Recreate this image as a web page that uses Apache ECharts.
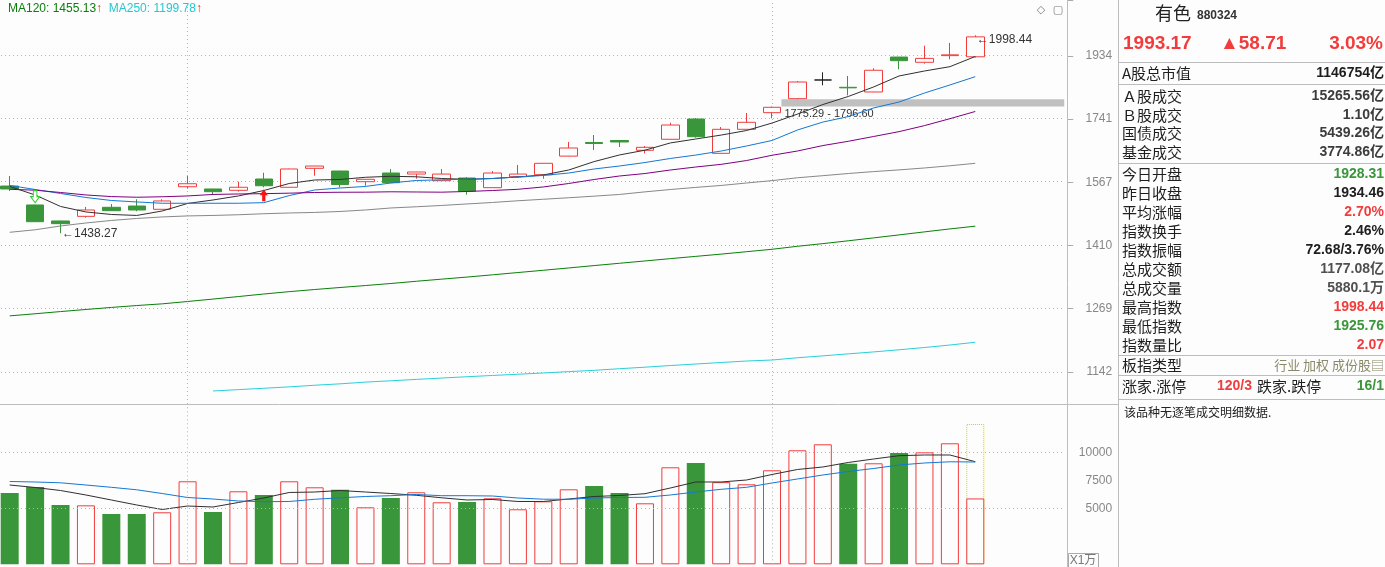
<!DOCTYPE html>
<html>
<head>
<meta charset="utf-8">
<title>有色 880324</title>
<script src="https://cdn.jsdelivr.net/npm/echarts@6/dist/echarts.min.js"></script>
<style>
  html, body { margin: 0; padding: 0; background: #fdfdfd; }
  #chart { width: 1385px; height: 567px; }
</style>
</head>
<body>
<div id="chart"></div>
<script>
// ---- data ----
const days = Array.from({ length: 39 }, (_, i) => 'D' + (i + 1));

const opens = [1555.5, 1507.3, 1467.8, 1479.1, 1501.5, 1504.7, 1496.5, 1553.7, 1547.9, 1544.5, 1573.8, 1552.3, 1602.0, 1594.8, 1566.8, 1589.5, 1586.8, 1569.4, 1576.4, 1551.3, 1579.8, 1585.0, 1634.8, 1672.3, 1677.8, 1650.7, 1681.2, 1738.8, 1642.4, 1709.3, 1757.2, 1798.5, 1855.3, 1832.9, 1818.7, 1927.4, 1910.7, 1932.0, 1928.31];
const highs = [1581.6, 1508.0, 1468.5, 1502.3, 1509.7, 1521.7, 1521.7, 1581.6, 1548.5, 1566.8, 1590.3, 1601.0, 1608.5, 1595.5, 1573.5, 1600.2, 1592.5, 1600.2, 1579.0, 1594.8, 1610.9, 1616.0, 1673.7, 1693.2, 1679.0, 1662.5, 1728.1, 1741.7, 1715.8, 1756.3, 1775.29, 1852.2, 1879.2, 1867.7, 1891.7, 1928.0, 1964.1, 1973.0, 1998.44];
const lows = [1542.7, 1465.5, 1438.27, 1475.7, 1492.5, 1491.6, 1496.0, 1548.7, 1532.6, 1541.0, 1552.3, 1551.8, 1582.4, 1551.8, 1556.3, 1564.0, 1574.6, 1569.0, 1533.4, 1551.0, 1576.4, 1574.6, 1634.0, 1651.5, 1659.8, 1642.4, 1681.0, 1685.7, 1642.0, 1709.0, 1740.8, 1796.60, 1839.0, 1808.6, 1818.0, 1888.6, 1906.3, 1920.2, 1925.76];
const closes = [1547.9, 1466.0, 1461.2, 1494.8, 1493.1, 1494.8, 1517.4, 1561.5, 1541.0, 1552.3, 1556.3, 1600.2, 1608.1, 1559.4, 1573.0, 1564.2, 1592.2, 1586.8, 1542.0, 1589.5, 1586.8, 1615.4, 1657.0, 1669.5, 1673.7, 1658.9, 1721.5, 1688.5, 1709.3, 1729.3, 1773.0, 1849.1, 1855.3, 1831.2, 1885.5, 1915.8, 1923.2, 1934.46, 1993.17];

const ma5 = [1554.4, 1532.6, 1503.6, 1489.9, 1483.7, 1481.3, 1492.3, 1511.1, 1519.9, 1530.1, 1544.0, 1562.1, 1571.2, 1572.5, 1578.3, 1580.9, 1579.6, 1575.1, 1573.0, 1575.1, 1579.1, 1584.4, 1597.5, 1620.0, 1638.0, 1651.0, 1671.0, 1682.0, 1693.0, 1705.9, 1727.1, 1753.0, 1781.1, 1805.1, 1834.0, 1867.7, 1883.2, 1896.8, 1929.2];
const ma10 = [1557.0, 1546.6, 1536.4, 1526.2, 1518.6, 1514.9, 1511.6, 1511.6, 1511.6, 1511.6, 1513.1, 1531.0, 1545.3, 1550.4, 1554.4, 1563.4, 1569.9, 1571.7, 1573.0, 1575.1, 1579.1, 1583.1, 1589.5, 1600.2, 1608.2, 1617.5, 1628.4, 1637.7, 1648.7, 1662.6, 1677.8, 1707.3, 1730.0, 1745.8, 1771.1, 1788.6, 1815.5, 1840.0, 1865.6];
const ma20 = [1547.1, 1544.8, 1538.9, 1532.6, 1528.5, 1526.8, 1528.0, 1530.1, 1533.9, 1535.1, 1535.9, 1537.2, 1538.9, 1539.5, 1539.7, 1540.7, 1540.2, 1539.7, 1541.5, 1544.0, 1547.1, 1553.1, 1562.1, 1572.5, 1581.7, 1588.2, 1597.5, 1605.5, 1612.6, 1622.9, 1637.1, 1648.7, 1663.7, 1675.6, 1689.0, 1702.7, 1719.8, 1739.7, 1760.7];
const ma60 = [1440.4, 1446.4, 1455.6, 1462.9, 1469.0, 1473.9, 1477.6, 1480.1, 1481.3, 1483.0, 1485.5, 1487.4, 1488.7, 1491.1, 1494.8, 1499.8, 1502.8, 1506.1, 1509.9, 1513.6, 1517.9, 1521.7, 1525.5, 1529.6, 1533.9, 1540.5, 1546.5, 1552.0, 1557.0, 1563.4, 1569.6, 1577.0, 1582.5, 1588.2, 1593.3, 1597.8, 1602.9, 1608.8, 1615.4];
const ma120 = [1253.6, 1258.0, 1262.6, 1267.0, 1271.3, 1275.3, 1278.9, 1283.9, 1289.1, 1294.5, 1300.0, 1305.1, 1309.7, 1314.1, 1318.4, 1322.9, 1327.8, 1332.5, 1337.1, 1342.1, 1347.2, 1352.3, 1357.5, 1362.9, 1368.1, 1373.4, 1378.7, 1383.9, 1389.1, 1394.7, 1400.3, 1407.3, 1413.5, 1420.2, 1427.1, 1434.2, 1441.4, 1448.5, 1455.13];
const ma250 = [null, null, null, null, null, null, null, null, 1106.5, 1109.0, 1111.5, 1114.1, 1117.1, 1119.7, 1122.9, 1125.4, 1128.0, 1130.5, 1133.0, 1135.4, 1137.7, 1140.1, 1142.7, 1145.1, 1148.2, 1151.1, 1154.3, 1157.2, 1160.1, 1163.0, 1164.9, 1169.3, 1173.0, 1176.9, 1180.7, 1184.9, 1189.4, 1194.3, 1199.78];

// 成交量, 万
const volumes = [6366, 6902, 5295, 5265, 4491, 4491, 4643, 7411, 4670, 6518, 6188, 7411, 6875, 6661, 5089, 5920, 6429, 5536, 5563, 5893, 4911, 5625, 6696, 6991, 6366, 5446, 8661, 9045, 7335, 7143, 8393, 10179, 10714, 8982, 9018, 9938, 10000, 10804, 5880.1];
const volMa5 = [7080, 6857, 6589, 6188, 5741, 5295, 4893, 5205, 5116, 5518, 5920, 6411, 6455, 6589, 6455, 6321, 6161, 5938, 5741, 5786, 5607, 5607, 5830, 6054, 6143, 6304, 6813, 7348, 7348, 7527, 8018, 8464, 8688, 9089, 9402, 9696, 9759, 9759, 9161];
const volMa10 = [7393, 7348, 7277, 7080, 6875, 6652, 6321, 5964, 5830, 5652, 5589, 5607, 5804, 5938, 6054, 6125, 6232, 6125, 6125, 6098, 5920, 5813, 5804, 5920, 5964, 5982, 6188, 6455, 6696, 6875, 7259, 7616, 7973, 8286, 8554, 8866, 9045, 9152, 9134];
const volForecast = 12527; // 预估全天量

const priceTicks = [1142, 1269, 1410, 1567, 1741, 1934];
const volTicks = [5000, 7500, 10000];
const volGrid = [5000, 10000];
const monthStarts = [7, 30];
const gapRange = [1775.29, 1796.60]; // 缺口
const gapFrom = 30;
const signals = [{ index: 1, side: 'sell' }, { index: 10, side: 'buy' }];

const title = '有色';
const code = '880324';
const lastPrice = '1993.17';
const change = '▲58.71';
const changePct = '3.03%';
const panelLabels = ['A股总市值', 'Ａ股成交', 'Ｂ股成交', '国债成交', '基金成交', '今日开盘', '昨日收盘', '平均涨幅', '指数换手', '指数振幅', '总成交额', '总成交量', '最高指数', '最低指数', '指数量比'];
const panelValues = ['1146754亿', '15265.56亿', '1.10亿', '5439.26亿', '3774.86亿', '1928.31', '1934.46', '2.70%', '2.46%', '72.68/3.76%', '1177.08亿', '5880.1万', '1998.44', '1925.76', '2.07'];
const boardType = '行业 加权 成份股▤';
const upDown = ['120/3', '16/1'];
const noTickText = '该品种无逐笔成交明细数据.';

// ---- styles ----
const RED = '#f23c3c';
const GREEN = '#3a963a';
const BG = '#fdfdfd';
const GRIDLINE = { color: '#b4b4b4', type: [1, 3], width: 1 };
const NUM = '"Liberation Sans", "Noto Sans CJK SC", sans-serif';
const CJK = '"Noto Sans CJK SC", sans-serif';
const SLOTS = 42;          // visible day slots, the last ones empty
const BAND = 25.41;        // px per day
const LOG_BASE = Math.pow(1142, 1 / 67);

const slots = Array.from({ length: SLOTS }, (_, i) => i < days.length ? days[i] : 'E' + i);

const chart = echarts.init(document.getElementById('chart'));

const lineSeries = (name, data, color, xi) => ({
  name, type: 'line', data, xAxisIndex: xi, yAxisIndex: xi,
  symbol: 'none', smooth: false, connectNulls: false, z: 4, silent: true,
  lineStyle: { color, width: 1 }
});

const downArrow = 'path://M3,0H7V6H10L5,12L0,6H3Z';
const upArrow = 'path://M5,0L10,6H7V12H3V6H0Z';

const panelColors = ['#1e1e1e', '#3c3c3c', '#3c3c3c', '#3c3c3c', '#3c3c3c', GREEN, '#1e1e1e', RED, '#1e1e1e', '#1e1e1e', '#505050', '#505050', RED, GREEN, RED];
const panelY = [73, 96, 115, 133.5, 152.5, 174, 193, 212, 231, 250, 269.5, 288.5, 307.5, 326.5, 345.5];

const graphic = [
  { type: 'line', shape: { x1: 1067.5, y1: 0, x2: 1067.5, y2: 567 }, style: { stroke: '#bdbdbd', lineWidth: 1 } },
  { type: 'line', shape: { x1: 1118.5, y1: 0, x2: 1118.5, y2: 567 }, style: { stroke: '#bdbdbd', lineWidth: 1 } },
  { type: 'line', shape: { x1: 0, y1: 404.5, x2: 1118, y2: 404.5 }, style: { stroke: '#bdbdbd', lineWidth: 1 } },
  {
    type: 'text', x: 8, y: 9,
    style: {
      text: '{g|MA120: ' + ma120[ma120.length - 1].toFixed(2) + '}{r|↑}  {c|MA250: ' + ma250[ma250.length - 1].toFixed(2) + '}{r|↑}',
      font: '12px ' + NUM, verticalAlign: 'middle',
      rich: { g: { fill: '#0a800a' }, c: { fill: '#22c8d2' }, r: { fill: '#f02828' } }
    }
  },
  { type: 'text', x: 1041, y: 10, style: { text: '◇', font: '11px "DejaVu Sans"', fill: '#777', align: 'center', verticalAlign: 'middle' } },
  { type: 'text', x: 1058, y: 10, style: { text: '▢', font: '11px "DejaVu Sans"', fill: '#777', align: 'center', verticalAlign: 'middle' } },
  { type: 'rect', shape: { x: 1068.5, y: 553.5, width: 30, height: 15 }, style: { fill: BG, stroke: '#aaa', lineWidth: 1 } },
  { type: 'text', x: 1083, y: 561, style: { text: 'X1万', font: '12px ' + NUM, fill: '#777', align: 'center', verticalAlign: 'middle' } },
  // right panel
  { type: 'text', x: 1155, y: 13, style: { text: title, font: '18px ' + CJK, fill: '#222', verticalAlign: 'middle' } },
  { type: 'text', x: 1197, y: 16, style: { text: code, font: 'bold 12px ' + NUM, fill: '#333', verticalAlign: 'middle' } },
  { type: 'text', x: 1123, y: 44, style: { text: lastPrice, font: 'bold 19px ' + NUM, fill: RED, verticalAlign: 'middle' } },
  { type: 'text', x: 1220, y: 44, style: { text: change, font: 'bold 19px ' + NUM, fill: RED, verticalAlign: 'middle' } },
  { type: 'text', x: 1383, y: 44, style: { text: changePct, font: 'bold 19px ' + NUM, fill: RED, align: 'right', verticalAlign: 'middle' } }
];
[62.5, 84.5, 163.5, 355.5, 375.5, 399.5].forEach(y => graphic.push(
  { type: 'line', shape: { x1: 1118, y1: y, x2: 1385, y2: y }, style: { stroke: '#bdbdbd', lineWidth: 1 } }
));
panelLabels.forEach((label, i) => {
  graphic.push({ type: 'text', x: 1122, y: panelY[i], style: { text: label, font: '15px ' + CJK, fill: '#1e1e1e', verticalAlign: 'middle' } });
  graphic.push({ type: 'text', x: 1384, y: panelY[i], style: { text: panelValues[i], font: 'bold 14px ' + NUM, fill: panelColors[i], align: 'right', verticalAlign: 'middle' } });
});
graphic.push(
  { type: 'text', x: 1122, y: 365.5, style: { text: '板指类型', font: '15px ' + CJK, fill: '#1e1e1e', verticalAlign: 'middle' } },
  { type: 'text', x: 1384, y: 365.5, style: { text: boardType, font: '13px ' + CJK, fill: '#8a8a6a', align: 'right', verticalAlign: 'middle' } },
  { type: 'text', x: 1122, y: 386, style: { text: '涨家.涨停', font: '15px ' + CJK, fill: '#1e1e1e', verticalAlign: 'middle' } },
  { type: 'text', x: 1217, y: 386, style: { text: upDown[0], font: 'bold 14px ' + NUM, fill: RED, verticalAlign: 'middle' } },
  { type: 'text', x: 1257, y: 386, style: { text: '跌家.跌停', font: '15px ' + CJK, fill: '#1e1e1e', verticalAlign: 'middle' } },
  { type: 'text', x: 1384, y: 386, style: { text: upDown[1], font: 'bold 14px ' + NUM, fill: GREEN, align: 'right', verticalAlign: 'middle' } },
  { type: 'text', x: 1124, y: 412, style: { text: noTickText, font: '12px ' + CJK, fill: '#222', verticalAlign: 'middle' } }
);
graphic.forEach(g => { g.silent = true; g.z = 10; });

const isUp = i => closes[i] >= opens[i];

const option = {
  backgroundColor: BG,
  animation: false,
  textStyle: { fontFamily: NUM },
  grid: [
    { left: -3, top: 0, width: SLOTS * BAND, height: 404, outerBoundsMode: 'none' },
    { left: -3, top: 404, width: SLOTS * BAND, height: 160.3, outerBoundsMode: 'none' }
  ],
  xAxis: [0, 1].map(g => ({
    type: 'category', gridIndex: g, data: slots, boundaryGap: true,
    axisLine: { show: false }, axisTick: { show: false }, axisLabel: { show: false }, splitLine: { show: false }
  })).concat([{
    // same day slots as a continuous axis, so the gap band can start at a candle edge
    type: 'value', gridIndex: 0, min: -0.5, max: SLOTS - 0.5, show: false
  }]),
  yAxis: [
    {
      type: 'log', logBase: LOG_BASE, gridIndex: 0, min: 1082.8, max: 2119.1,
      position: 'right', offset: 3,
      axisLine: { show: false, onZero: false },
      axisTick: { show: true, length: 6, lineStyle: { color: '#aaa' } },
      axisLabel: {
        color: '#888', fontSize: 12, align: 'right', margin: 45, hideOverlap: false,
        formatter: v => {
          const hit = priceTicks.find(t => Math.abs(Math.log(t / v)) < 0.004);
          return hit ? String(hit) : '';
        }
      },
      splitLine: { show: false }
    },
    {
      type: 'value', gridIndex: 1, min: 0, max: 14312, interval: 2500,
      position: 'right', offset: 3,
      axisLine: { show: false, onZero: false }, axisTick: { show: false },
      axisLabel: {
        color: '#888', fontSize: 12, align: 'right', margin: 45, hideOverlap: false,
        formatter: v => volTicks.includes(v) ? String(v) : ''
      },
      splitLine: { show: false }
    }
  ],
  series: [
    {
      name: 'K', type: 'candlestick', xAxisIndex: 0, yAxisIndex: 0, barWidth: 18, z: 3,
      data: days.map((_, i) => [opens[i], closes[i], lows[i], highs[i]]),
      itemStyle: {
        color: BG, color0: GREEN, borderColor: RED, borderColor0: GREEN,
        borderColorDoji: '#222', borderWidth: 1
      },
      markLine: {
        silent: true, symbol: ['none', 'none'], label: { show: false }, lineStyle: GRIDLINE, z: 1,
        data: priceTicks.map(v => ({ yAxis: v })).concat(monthStarts.map(i => ({ xAxis: days[i] })))
      },
      markPoint: {
        silent: true,
        data: [
          {
            type: 'max', valueDim: 'highest', symbol: 'circle', symbolSize: 1,
            itemStyle: { color: 'transparent' },
            label: { show: true, position: 'right', distance: 1, offset: [0, 4], color: '#333', fontSize: 12, formatter: p => '←' + p.value.toFixed(2) }
          },
          {
            type: 'min', valueDim: 'lowest', symbol: 'circle', symbolSize: 1,
            itemStyle: { color: 'transparent' },
            label: { show: true, position: 'right', distance: 1, offset: [0, 1], color: '#333', fontSize: 12, formatter: p => '←' + p.value.toFixed(2) }
          }
        ].concat(signals.map(s => s.side === 'sell'
          ? { coord: [days[s.index], highs[s.index]], symbol: downArrow, symbolSize: [9, 12], symbolOffset: [0, -8],
              itemStyle: { color: BG, borderColor: '#2ccc2c', borderWidth: 1 }, label: { show: false } }
          : { coord: [days[s.index], lows[s.index]], symbol: upArrow, symbolSize: [8, 12], symbolOffset: [0, 8],
              itemStyle: { color: '#ff1010' }, label: { show: false } }))
      }
    },
    {
      name: '缺口', type: 'line', xAxisIndex: 2, yAxisIndex: 0, data: [], silent: true,
      markArea: {
        silent: true, itemStyle: { color: '#c0c0c0' },
        label: {
          show: true, position: [3, 9], color: '#333', fontSize: 11,
          formatter: () => gapRange[0].toFixed(2) + ' - ' + gapRange[1].toFixed(2)
        },
        // from the right edge of the candle that left the gap to the end of the plot
        data: [[{ xAxis: gapFrom + 0.37, yAxis: gapRange[0] }, { yAxis: gapRange[1] }]]
      }
    },
    lineSeries('MA5', ma5, '#303030', 0),
    lineSeries('MA10', ma10, '#1478d4', 0),
    lineSeries('MA20', ma20, '#800080', 0),
    lineSeries('MA60', ma60, '#888888', 0),
    lineSeries('MA120', ma120, '#0a800a', 0),
    lineSeries('MA250', ma250, '#2ad0da', 0),
    {
      name: 'VOL预估', type: 'bar', xAxisIndex: 1, yAxisIndex: 1, barWidth: 18, barGap: '-100%', z: 1, silent: true,
      data: days.map((_, i) => i === days.length - 1 ? volForecast : null),
      itemStyle: { color: 'transparent', borderColor: '#d2d200', borderWidth: 1, borderType: [1, 1] }
    },
    {
      name: 'VOL', type: 'bar', xAxisIndex: 1, yAxisIndex: 1, barWidth: 18, barGap: '-100%', z: 2, silent: true,
      data: volumes.map((v, i) => ({
        value: v,
        itemStyle: isUp(i)
          ? { color: BG, borderColor: RED, borderWidth: 1 }
          : { color: GREEN, borderColor: GREEN, borderWidth: 0 }
      })),
      markLine: {
        silent: true, symbol: ['none', 'none'], label: { show: false }, lineStyle: GRIDLINE,
        data: volGrid.map(v => ({ yAxis: v })).concat(monthStarts.map(i => ({ xAxis: days[i] })))
      }
    },
    lineSeries('VMA5', volMa5, '#303030', 1),
    lineSeries('VMA10', volMa10, '#1478d4', 1)
  ],
  graphic
};

chart.setOption(option);
</script>
</body>
</html>
